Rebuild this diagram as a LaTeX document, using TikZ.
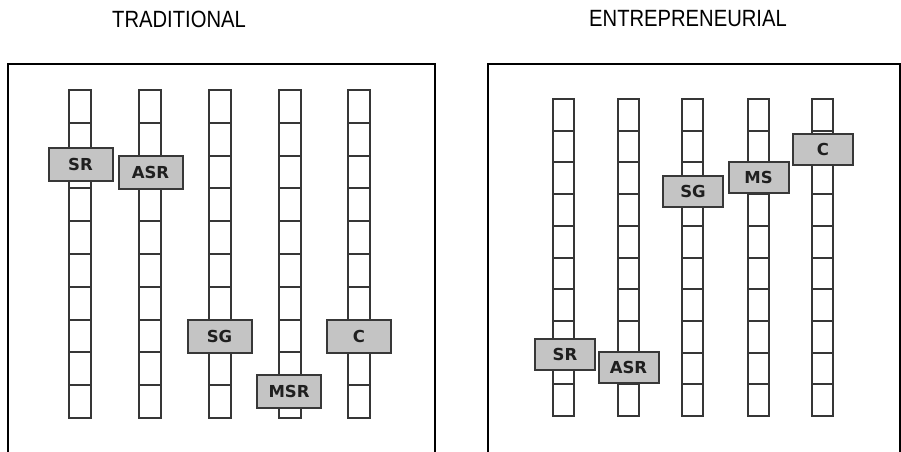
\documentclass[tikz,border=0pt]{standalone}
\usepackage{fontspec}
\setmainfont{Liberation Sans}
\newfontfamily\boxfont{DejaVu Sans}
\definecolor{colline}{HTML}{363636}
\definecolor{boxfill}{HTML}{C4C4C4}
\definecolor{boxline}{HTML}{383838}
\tikzset{
  col/.style={draw=colline, line width=2pt},
  frame/.style={draw=black, line width=2pt},
  tag/.style={draw=boxline, fill=boxfill, line width=2pt, inner sep=0pt,
    font=\boxfont\bfseries\fontsize{16.5}{16.5}\selectfont, text=black!88},
  tagL/.style={tag, minimum width=64pt, minimum height=33pt},
  tagR/.style={tag, minimum width=60pt, minimum height=31pt},
  title/.style={font=\fontsize{23.5}{24}\selectfont, inner sep=0pt}
}
\newcommand\ladder[4]{%
  \draw[col] (#1-#2/2,#3) rectangle (#1+#2/2,#4);
  \foreach \k in {1,...,9}{
    \draw[col] (#1-#2/2,{round(#3+\k*(#4-#3)/10)}) -- (#1+#2/2,{round(#3+\k*(#4-#3)/10)});
  }%
}
\begin{document}
\begin{tikzpicture}[x=1pt,y=-1pt]
\useasboundingbox (0,0) rectangle (901,451);
\fill[white] (0,0) rectangle (901,451);
% titles
\node[title] (t1) at (179,19) {\scalebox{0.86}[1]{TRADITIONAL}};
\node[title] (t2) at (688,19) {\scalebox{0.86}[1]{ENTREPRENEURIAL}};
% frames
\draw[frame] (8,452) -- (8,64) -- (435,64) -- (435,452);
\draw[frame] (488,452) -- (488,64) -- (900,64) -- (900,452);
% left ladders
\foreach \x in {80,150,220,290,359}{\ladder{\x}{22}{90}{418}}
% right ladders
\foreach \x in {563.5,628.5,692.5,758.5,822.5}{\ladder{\x}{21}{99}{416}}
% left tags
\node[tagL] (lsr)  at (80.5,164)  {SR};
\node[tagL] (lasr) at (150.5,172.5) {ASR};
\node[tagL] (lsg)  at (219.5,336) {SG};
\node[tagL] (lmsr) at (289,391) {MSR};
\node[tagL] (lc)   at (359,336) {C};
% right tags
\node[tagR] (rsr)  at (565,354) {SR};
\node[tagR] (rasr) at (628.5,367) {ASR};
\node[tagR] (rsg)  at (693,191.5) {SG};
\node[tagR] (rms)  at (758.5,177.5) {MS};
\node[tagR] (rc)   at (823,149) {C};
\end{tikzpicture}
\end{document}
